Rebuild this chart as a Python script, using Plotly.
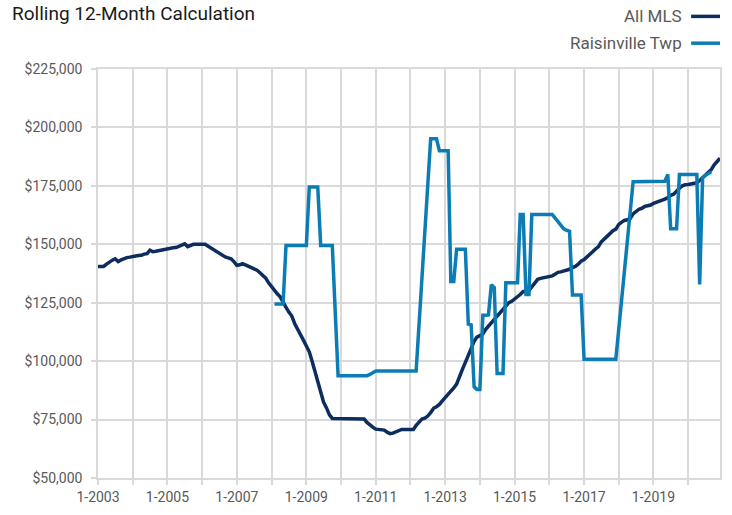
import pandas as pd
import plotly.graph_objects as go

# Monthly periods, Jan 2003 .. Dec 2020
months = pd.date_range("2003-01-01", periods=216, freq="MS")

# All MLS, rolling 12-month median price (thousands of $)
all_mls = [
    140.5, 140.5, 140.5, 141.5, 142.5, 143.2, 143.8, 142.6, 143.3, 144.0, 144.3, 144.5,
    144.6, 145.0, 145.2, 145.3, 145.8, 146.0, 147.5, 146.8, 147.0, 147.3, 147.5, 147.7,
    148.0, 148.3, 148.5, 148.6, 149.2, 149.5, 150.2, 149.0, 149.6, 150.0, 150.0, 150.0,
    150.0, 150.0, 149.3, 148.5, 147.6, 146.8, 146.2, 145.4, 144.6, 144.2, 143.8, 142.6,
    141.0, 141.2, 141.7, 141.2, 140.6, 140.0, 139.4, 138.9, 137.8, 136.8, 135.5, 133.5,
    131.8, 130.4, 128.8, 127.5, 125.0, 123.0, 121.0, 119.3, 116.0, 113.8, 111.8, 109.0,
    106.5, 104.0, 100.2, 96.0, 91.5, 87.0, 82.5, 80.0, 77.0, 75.5, 75.5, 75.5,
    75.5, 75.5, 75.5, 75.5, 75.5, 75.5, 75.5, 75.5, 75.2, 73.8, 72.6, 71.8,
    70.9, 70.8, 70.6, 70.5, 69.6, 69.0, 69.2, 69.8, 70.6, 70.8, 70.8, 70.8,
    70.8, 70.8, 72.5, 73.8, 75.2, 75.6, 76.5, 78.0, 79.8, 80.5, 81.5, 83.0,
    84.3, 85.8, 87.2, 88.5, 90.2, 93.0, 96.5, 99.5, 102.5, 105.8, 108.5, 110.3,
    111.0, 111.6, 113.5, 115.0, 116.5, 118.0, 119.3, 120.8, 122.2, 123.5, 125.0, 125.6,
    126.5, 127.5, 128.5, 129.8, 130.0, 130.3, 131.8, 133.5, 135.0, 135.4, 135.6, 135.8,
    136.2, 136.5, 137.2, 138.0, 138.2, 138.5, 138.8, 139.3, 140.0, 140.5, 141.5, 142.8,
    143.5, 144.5, 145.5, 146.8, 148.0, 149.0, 151.0, 152.3, 153.5, 154.8, 155.8, 156.5,
    158.5, 159.5, 160.2, 160.5, 161.0, 163.0, 164.0, 165.0, 165.4, 166.2, 166.5, 166.8,
    167.5, 167.9, 168.5, 169.0, 169.3, 170.0, 171.0, 171.4, 173.0, 174.0, 175.0, 175.5,
    175.6, 175.8, 176.0, 176.3, 177.3, 178.4, 179.5, 180.5, 182.0, 184.0, 185.5, 186.8,
]

N = None
# Raisinville Twp (thousands of $); None = no value that month
raisinville = (
    [N] * 61
    + [124.5] * 4
    + [149.5] * 8
    + [174.5] * 4
    + [149.5] * 5
    + [121.0]
    + [93.8] * 11
    + [94.3, 95.0]
    + [95.8] * 15
    + [N] * 4
    + [195.2] * 3
    + [190.0] * 4
    + [134.1] * 2
    + [147.9] * 4
    + [115.8, 115.5]
    + [89.0, 87.9, 87.9]
    + [119.6, 119.6, 119.8, 132.7]
    + [131.5, 94.7]
    + [94.7, 94.7]
    + [133.5] * 5
    + [162.7] * 2
    + [128.5] * 2
    + [162.7] * 8
    + [161.3, 159.8, 158.3, 156.6, 156.0, 155.6]
    + [128.3] * 4
    + [100.8] * 12
    + [N] * 5
    + [176.8] * 11 + [177.0]
    + [179.9]
    + [156.6] * 3
    + [179.9] * 7
    + [132.8, 178.5, 179.5, 180.3, 181.0]
    + [N] * 3
)
assert len(all_mls) == 216 and len(raisinville) == 216

series_names = ["All MLS", "Raisinville Twp"]
y_ticks = [50000, 75000, 100000, 125000, 150000, 175000, 200000, 225000]

DARK = "#0c2d5e"
LIGHT = "#0b7db4"
GRID = "#d9d9d9"
TXT = "#595959"
FONT = "Roboto, Arial, sans-serif"

fig = go.Figure()
fig.add_trace(go.Scatter(
    x=months, y=[v * 1000 for v in all_mls], mode="lines", name=series_names[0],
    line=dict(color=DARK, width=3.5), showlegend=False,
))
fig.add_trace(go.Scatter(
    x=months, y=[None if v is None else v * 1000 for v in raisinville],
    mode="lines", name=series_names[1], connectgaps=True,
    line=dict(color=LIGHT, width=3.5), showlegend=False,
))

fig.update_layout(
    width=732, height=515,
    margin=dict(l=98, r=10, t=69, b=34),
    paper_bgcolor="white", plot_bgcolor="white",
    font=dict(family=FONT, size=14, color=TXT),
    title=dict(text="Rolling 12-Month Calculation", x=12 / 732, xref="container",
               xanchor="left", y=1 - 13 / 515, yref="container", yanchor="middle",
               font=dict(family=FONT, size=19, color="#1a1a1a")),
)

fig.update_xaxes(
    type="date", range=[months[0], months[-1]],
    tick0="2003-01-01", dtick="M24", tickformat="%-m-%Y",
    showgrid=True, gridcolor=GRID, gridwidth=1.5,
    ticks="outside", ticklen=5, tickcolor=GRID, tickwidth=1.5,
    minor=dict(dtick="M12", tick0="2003-01-01", showgrid=True, gridcolor=GRID,
               gridwidth=1.5, ticks="outside", ticklen=5, tickcolor=GRID, tickwidth=1.5),
    showline=True, linecolor=GRID, linewidth=1.5, mirror=True,
    zeroline=False, tickfont=dict(size=14, color=TXT),
)
fig.update_yaxes(
    range=[50000, 225000], tickvals=y_ticks,
    ticktext=[f"${v:,.0f}" for v in y_ticks],
    showgrid=True, gridcolor=GRID, gridwidth=1.5,
    ticks="outside", ticklen=5, tickcolor=GRID, tickwidth=1.5,
    ticklabelstandoff=6,
    showline=True, linecolor=GRID, linewidth=1.5, mirror=True,
    zeroline=False, tickfont=dict(size=14, color=TXT),
)

# Legend drawn on the right with the line sample after the label
leg_rows = [(series_names[0], DARK, (481 - 16) / 412),
            (series_names[1], LIGHT, (481 - 43) / 412)]
for name, col, yp in leg_rows:
    fig.add_annotation(text=name, xref="paper", yref="paper", x=(686 - 98) / 624, y=yp,
                       xanchor="right", yanchor="middle", showarrow=False,
                       font=dict(family=FONT, size=17, color=TXT))
    fig.add_shape(type="line", xref="paper", yref="paper",
                  x0=(693 - 98) / 624, x1=(722 - 98) / 624, y0=yp, y1=yp,
                  line=dict(color=col, width=3.5))

fig.write_html("out.html", config={"displayModeBar": False},
               post_script="document.body.style.margin='0';")
